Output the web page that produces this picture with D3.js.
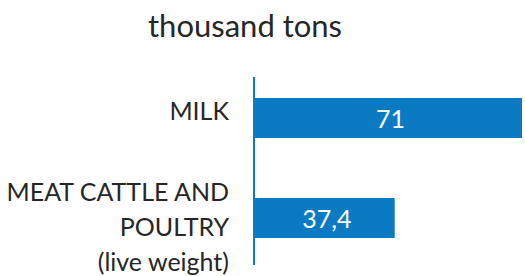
<!DOCTYPE html>
<html>
<head>
<meta charset="utf-8">
<script src="https://cdn.jsdelivr.net/npm/d3@7"></script>
<style>
  body { margin: 0; background: #fff; }
  text { font-family: Lato, "Open Sans", sans-serif; }
</style>
</head>
<body>
<div id="chart"></div>
<script>
const categories = ["MILK", "MEAT CATTLE AND|POULTRY|(live weight)"];
const values = [71, 37.4];
const valueLabels = ["71", "37,4"];
const unitTitle = "thousand tons";

const width = 525;
const height = 276;
const axisX = 253;

const svg = d3.select("#chart")
    .append("svg")
    .attr("width", width)
    .attr("height", height);

const x = d3.scaleLinear()
    .domain([0, 71])
    .range([axisX, 522]);

const y = d3.scaleBand()
    .domain(categories)
    .range([68, 268])
    .paddingInner(0.6)
    .paddingOuter(0.3);

const blue = "#0a7bc2";
const ink = "#262626";

svg.append("text")
    .attr("x", 245)
    .attr("y", 37)
    .attr("text-anchor", "middle")
    .style("font-size", "31px")
    .style("fill", ink)
    .text(unitTitle);

// bars
svg.selectAll("rect.bar")
    .data(values)
    .enter()
    .append("rect")
    .attr("class", "bar")
    .attr("x", x(0))
    .attr("y", (d, i) => y(categories[i]))
    .attr("width", d => x(d) - x(0))
    .attr("height", y.bandwidth())
    .attr("fill", blue);

// vertical axis line
svg.append("line")
    .attr("x1", axisX + 1)
    .attr("x2", axisX + 1)
    .attr("y1", 77)
    .attr("y2", 265)
    .attr("stroke", blue)
    .attr("stroke-width", 2);

// category labels (multi-line)
const lineH = 35;
categories.forEach(c => {
    const lines = c.split("|");
    const n = lines.length;
    const cy = y(c) + y.bandwidth() / 2;
    const t = svg.append("text")
        .attr("text-anchor", "end")
        .style("font-size", "25px")
        .style("fill", ink);
    lines.forEach((ln, i) => {
        t.append("tspan")
            .attr("x", 229)
            .attr("y", cy + 2 + (i - (n - 1) / 2) * lineH + (n - 1) * 8)
            .text(ln);
    });
});

// value labels
svg.selectAll("text.val")
    .data(values)
    .enter()
    .append("text")
    .attr("class", "val")
    .attr("x", d => (x(0) + x(d)) / 2 + 3)
    .attr("y", (d, i) => y(categories[i]) + y.bandwidth() / 2 + 10)
    .attr("text-anchor", "middle")
    .style("font-size", "25px")
    .style("fill", "#fff")
    .text((d, i) => valueLabels[i]);
</script>
</body>
</html>
